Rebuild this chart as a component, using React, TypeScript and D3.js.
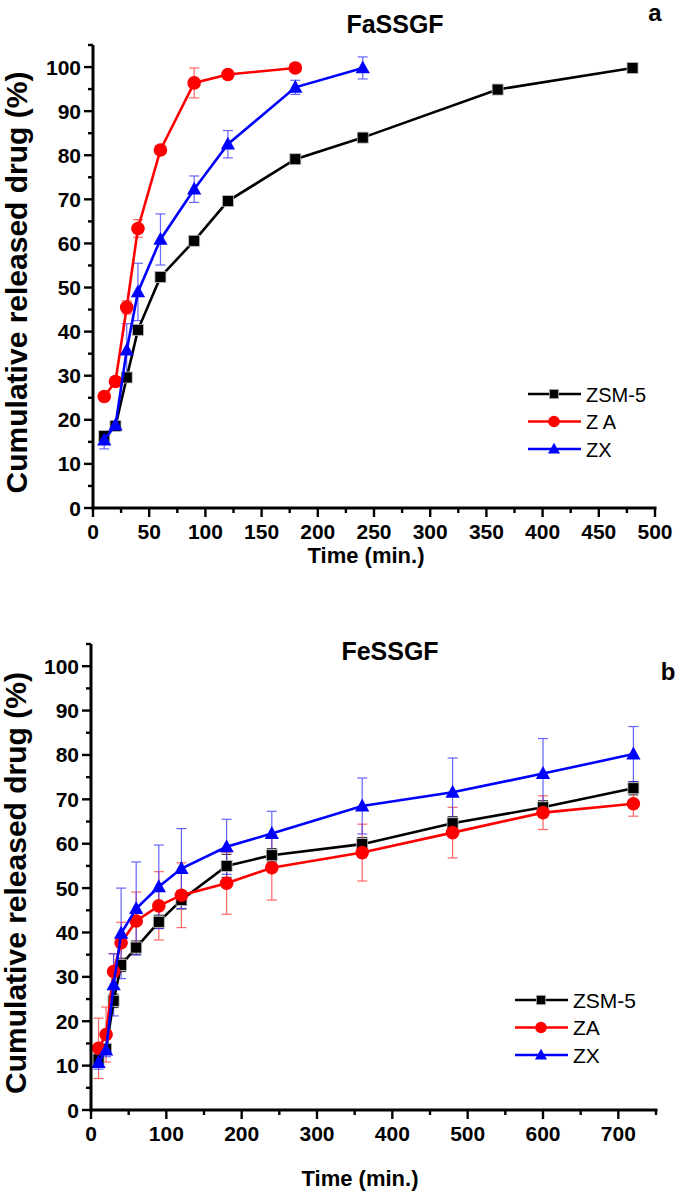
import { useEffect, useRef } from 'react';
import * as d3 from 'd3';

// Panel a: FaSSGF
const timesA_ZSM = [10, 20, 30, 40, 60, 90, 120, 180, 240, 360, 480];
const valsA_ZSM = [16.3, 18.6, 29.6, 40.4, 52.4, 60.6, 69.6, 79.1, 84.0, 94.9, 99.8];
const errA_ZSM = [1, 0.8, 1, 1, 1, 0.8, 0.8, 0.8, 0.6, 0.6, 0.5];
const timesA_ZA = [10, 20, 30, 40, 60, 90, 120, 180];
const valsA_ZA = [25.3, 28.7, 45.5, 63.4, 81.2, 96.4, 98.3, 99.8];
const errA_ZA = [0.8, 1, 1.5, 2, 0.8, 3.4, 0.8, 0.8];
const timesA_ZX = [10, 20, 30, 40, 60, 90, 120, 180, 240];
const valsA_ZX = [15.4, 18.8, 35.8, 49.0, 60.9, 72.3, 82.5, 95.4, 99.8];
const errA_ZX = [2, 1, 6, 6.5, 5.8, 3, 3.1, 1.6, 2.5];

// Panel b: FeSSGF
const timesB = [10, 20, 30, 40, 60, 90, 120, 180, 240, 360, 480, 600, 720];
const valsB_ZSM = [11.4, 13.7, 24.6, 32.7, 36.6, 42.4, 47.3, 55.0, 57.4, 59.9, 64.6, 68.2, 72.5];
const errB_ZSM = [1, 1, 1.5, 1.5, 1.5, 1.5, 2, 2.6, 1.5, 1.5, 1.5, 1.5, 1.5];
const valsB_ZA = [13.9, 17.0, 31.2, 37.7, 42.6, 46.0, 48.4, 51.1, 54.6, 58.0, 62.5, 67.0, 69.0];
const errB_ZA = [6.8, 6.2, 4, 4.6, 6.5, 7.7, 7.3, 7, 7.3, 6.4, 5.7, 3.8, 2.8];
const valsB_ZX = [10.7, 13.5, 28.2, 39.8, 45.4, 50.3, 54.4, 59.3, 62.3, 68.5, 71.6, 75.8, 80.2];
const errB_ZX = [1.5, 1.5, 7, 10.2, 10.5, 9.4, 9, 6.2, 5, 6.3, 7.7, 7.9, 6.2];

const yTicks = [0, 10, 20, 30, 40, 50, 60, 70, 80, 90, 100];
const xTicksA = [0, 50, 100, 150, 200, 250, 300, 350, 400, 450, 500];
const xTicksB = [0, 100, 200, 300, 400, 500, 600, 700];

type Series = { name: string; color: string; err: string; shape: 'square' | 'circle' | 'triangle'; t: number[]; v: number[]; e: number[] };

interface PanelCfg {
  left: number; right: number; top: number; bottom: number;
  xMax: number; xTicks: number[]; xMinor: number;
  title: string; titleX: number; titleY: number;
  letter: string; letterX: number; letterY: number;
  legendX: number; legendY: number; legendGap: number; legendFont: number;
  xLabelX: number; xLabelY: number; yLabelX: number;
  series: Series[];
}

const FONT = 'Liberation Sans, Arial, sans-serif';

function drawPanel(svg: d3.Selection<SVGSVGElement, unknown, null, undefined>, c: PanelCfg) {
  const x = d3.scaleLinear().domain([0, c.xMax]).range([c.left, c.right]);
  const y = d3.scaleLinear().domain([0, 105]).range([c.bottom, c.top]);
  const g = svg.append('g');

  // error bars
  c.series.forEach(s => {
    const eg = g.append('g').attr('stroke', s.err).attr('stroke-width', 1.2).attr('opacity', 0.75);
    s.t.forEach((t, i) => {
      const cx = x(t), y1 = y(s.v[i] + s.e[i]), y2 = y(s.v[i] - s.e[i]);
      eg.append('line').attr('x1', cx).attr('x2', cx).attr('y1', y1).attr('y2', y2);
      eg.append('line').attr('x1', cx - 5).attr('x2', cx + 5).attr('y1', y1).attr('y2', y1);
      eg.append('line').attr('x1', cx - 5).attr('x2', cx + 5).attr('y1', y2).attr('y2', y2);
    });
  });

  const marker = (sel: d3.Selection<SVGGElement, unknown, null, undefined>, s: Series, px: number, py: number, size = 1) => {
    if (s.shape === 'square') {
      const h = 5.5 * size;
      sel.append('rect').attr('x', px - h).attr('y', py - h).attr('width', 2 * h).attr('height', 2 * h)
        .attr('fill', s.color).attr('stroke', '#bbb').attr('stroke-width', 0.8);
    } else if (s.shape === 'circle') {
      sel.append('circle').attr('cx', px).attr('cy', py).attr('r', 6.8 * size).attr('fill', s.color);
    } else {
      const r = 7.5 * size;
      sel.append('path')
        .attr('d', `M${px},${py - r}L${px + r * 0.95},${py + r * 0.72}L${px - r * 0.95},${py + r * 0.72}Z`)
        .attr('fill', s.color);
    }
  };

  c.series.forEach(s => {
    const line = d3.line<number>().x((_, i) => x(s.t[i])).y(d => y(d));
    g.append('path').attr('d', line(s.v)).attr('fill', 'none').attr('stroke', s.color).attr('stroke-width', 2.6);
    const mg = g.append('g');
    s.t.forEach((t, i) => marker(mg, s, x(t), y(s.v[i])));
  });

  // axes
  const ax = svg.append('g').attr('stroke', '#000').attr('stroke-width', 3);
  ax.append('line').attr('x1', c.left).attr('x2', c.left).attr('y1', c.top).attr('y2', c.bottom + 1.5);
  ax.append('line').attr('x1', c.left - 1.5).attr('x2', c.right + 1.5).attr('y1', c.bottom).attr('y2', c.bottom);
  for (let v = 0; v <= 105; v += 5) {
    const major = v % 10 === 0;
    ax.append('line').attr('x1', c.left).attr('x2', c.left - (major ? 9 : 5)).attr('y1', y(v)).attr('y2', y(v)).attr('stroke-width', 2.4);
  }
  for (let v = 0; v <= c.xMax; v += c.xMinor) {
    const major = c.xTicks.includes(v);
    ax.append('line').attr('x1', x(v)).attr('x2', x(v)).attr('y1', c.bottom).attr('y2', c.bottom + (major ? 9 : 5)).attr('stroke-width', 2.4);
  }

  const tl = svg.append('g').attr('font-family', FONT).attr('font-weight', 'bold').attr('font-size', 21).attr('fill', '#000');
  yTicks.forEach(v => {
    tl.append('text').attr('x', c.left - 12).attr('y', y(v) + 7.5).attr('text-anchor', 'end').text(v);
  });
  c.xTicks.forEach(v => {
    tl.append('text').attr('x', x(v)).attr('y', c.bottom + 31).attr('text-anchor', 'middle').text(v);
  });

  svg.append('text').attr('x', c.xLabelX).attr('y', c.xLabelY).attr('text-anchor', 'middle')
    .attr('font-family', FONT).attr('font-weight', 'bold').attr('font-size', 22).text('Time (min.)');
  svg.append('text').attr('transform', `translate(${c.yLabelX},${(c.top + c.bottom) / 2 + 6}) rotate(-90)`)
    .attr('text-anchor', 'middle').attr('font-family', FONT).attr('font-weight', 'bold').attr('font-size', 30)
    .text('Cumulative released drug (%)');
  svg.append('text').attr('x', c.titleX).attr('y', c.titleY).attr('text-anchor', 'middle')
    .attr('font-family', FONT).attr('font-weight', 'bold').attr('font-size', 25).text(c.title);
  svg.append('text').attr('x', c.letterX).attr('y', c.letterY).attr('text-anchor', 'middle')
    .attr('font-family', FONT).attr('font-weight', 'bold').attr('font-size', 24).text(c.letter);

  // legend
  const lg = svg.append('g');
  c.series.forEach((s, i) => {
    const ly = c.legendY + i * c.legendGap;
    lg.append('line').attr('x1', c.legendX).attr('x2', c.legendX + 53).attr('y1', ly).attr('y2', ly)
      .attr('stroke', s.color).attr('stroke-width', 2.4);
    marker(lg, s, c.legendX + 26, ly, 0.85);
    lg.append('text').attr('x', c.legendX + 58).attr('y', ly + 7.5).attr('font-family', FONT)
      .attr('font-size', c.legendFont).text(s.name);
  });
}

export default function App() {
  const ref = useRef<SVGSVGElement>(null);
  useEffect(() => {
    if (!ref.current) return;
    const svg = d3.select(ref.current);
    svg.selectAll('*').remove();

    drawPanel(svg, {
      left: 93, right: 655, top: 45, bottom: 508, xMax: 500, xTicks: xTicksA, xMinor: 25,
      title: 'FaSSGF', titleX: 395, titleY: 33, letter: 'a', letterX: 655, letterY: 21,
      legendX: 528, legendY: 394, legendGap: 27.5, legendFont: 20,
      xLabelX: 366, xLabelY: 563, yLabelX: 27,
      series: [
        { name: 'ZSM-5', color: '#000', err: '#000', shape: 'square', t: timesA_ZSM, v: valsA_ZSM, e: errA_ZSM },
        { name: 'Z A', color: '#ff0000', err: '#ff3333', shape: 'circle', t: timesA_ZA, v: valsA_ZA, e: errA_ZA },
        { name: 'ZX', color: '#0000ff', err: '#3333ff', shape: 'triangle', t: timesA_ZX, v: valsA_ZX, e: errA_ZX },
      ],
    });

    drawPanel(svg, {
      left: 91, right: 656, top: 644, bottom: 1110, xMax: 750, xTicks: xTicksB, xMinor: 50,
      title: 'FeSSGF', titleX: 390, titleY: 660, letter: 'b', letterX: 668, letterY: 680,
      legendX: 515, legendY: 1000, legendGap: 27.5, legendFont: 21,
      xLabelX: 360, xLabelY: 1186, yLabelX: 26,
      series: [
        { name: 'ZSM-5', color: '#000', err: '#000', shape: 'square', t: timesB, v: valsB_ZSM, e: errB_ZSM },
        { name: 'ZA', color: '#ff0000', err: '#ff3333', shape: 'circle', t: timesB, v: valsB_ZA, e: errB_ZA },
        { name: 'ZX', color: '#0000ff', err: '#3333ff', shape: 'triangle', t: timesB, v: valsB_ZX, e: errB_ZX },
      ],
    });
  }, []);

  return (
    <div style={{ position: 'absolute', left: 0, top: 0 }}>
      <svg ref={ref} width={685} height={1195} style={{ display: 'block', background: '#fff' }} />
    </div>
  );
}
